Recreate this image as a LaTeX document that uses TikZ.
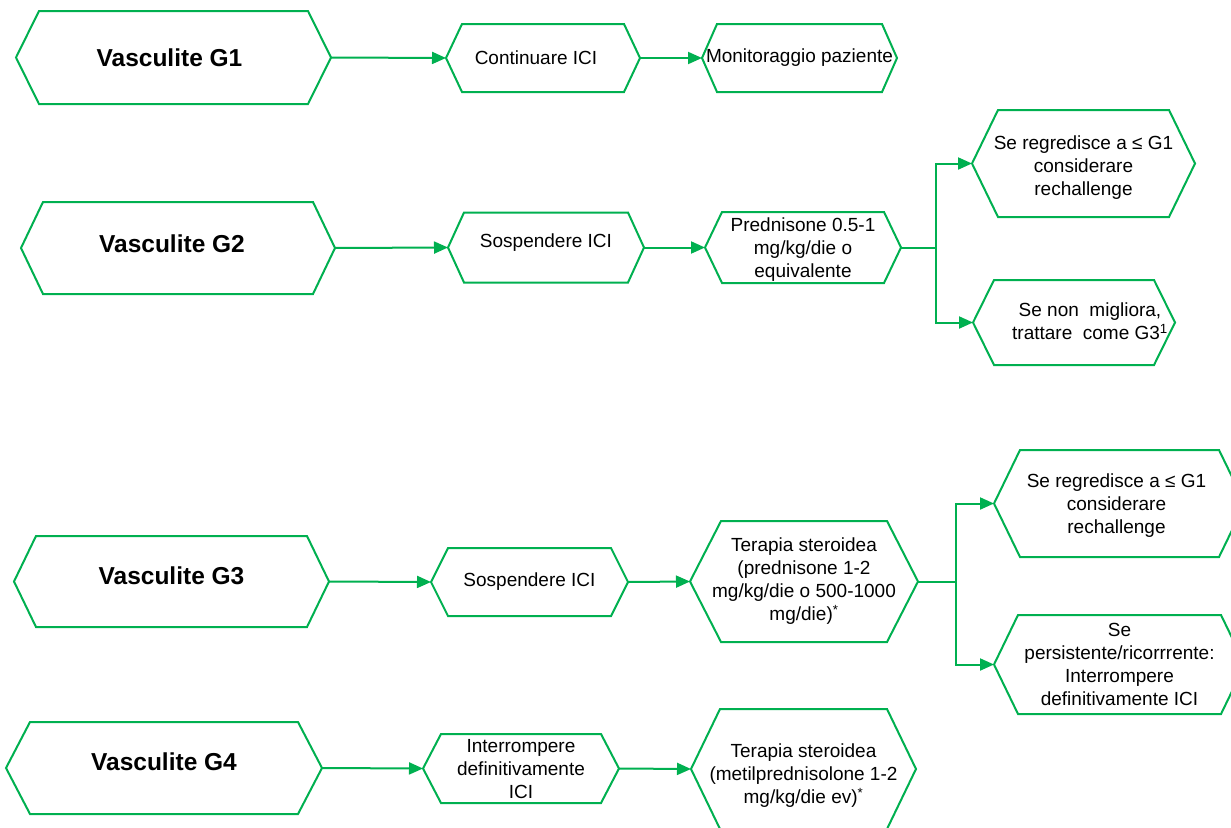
\documentclass[tikz,border=0pt]{standalone}
\usepackage{fontspec}
\setmainfont{Liberation Sans}
\usetikzlibrary{arrows.meta}
\definecolor{gr}{RGB}{0,176,80}
\newcommand\hexframe[2]{\draw[frame] (#1.west) -- ([xshift=#2]#1.north west) -- ([xshift=-#2]#1.north east) -- (#1.east) -- ([xshift=-#2]#1.south east) -- ([xshift=#2]#1.south west) -- cycle;}
\newcommand\mvtxt[2]{\raisebox{#1}[\height][\depth]{\begin{tabular}{@{}c@{}}#2\end{tabular}}}
\begin{document}
\begin{tikzpicture}[x=1pt,y=-1pt,
 box/.style={draw=none, inner sep=0pt, outer sep=0pt, align=center, font=\fontsize{19}{23}\selectfont},
 mainbox/.style={box, font=\fontsize{24.5}{28}\selectfont\bfseries},
 sz/.style 2 args={minimum width=#1pt, minimum height=#2pt},
 frame/.style={draw=gr, line width=2pt, line join=miter},
 arr/.style={draw=gr, line width=2pt, -{Triangle[length=14pt,width=12pt]}},
 link/.style={draw=gr, line width=2pt}]
\clip (0,0) rectangle (1231,827);
\fill[white] (0,0) rectangle (1231,827);

% Row G1
\node[mainbox, sz={315}{93}] (g1) at (173.5,57.5) {\mvtxt{-3pt}{Vasculite G1}\hspace*{8pt}};
\node[box, sz={194}{68}] (cont) at (543,58) {\mvtxt{-2pt}{Continuare ICI}\hspace*{14pt}};
\node[box, sz={195}{68}] (mon) at (799.5,58) {Monitoraggio paziente};

% Row G2
\node[mainbox, sz={314}{92}] (g2) at (178,248) {\mvtxt{1pt}{Vasculite G2}\hspace*{12pt}};
\node[box, sz={196}{70}] (sosp2) at (546,247.5) {\mvtxt{5pt}{Sospendere ICI}};
\node[box, sz={196}{71}] (pred) at (803,247.5) {\mvtxt{-2pt}{Prednisone 0.5-1\\mg/kg/die o\\equivalente}};
\node[box, sz={223}{107}] (sereg2) at (1083.5,163.5) {\mvtxt{-4pt}{Se regredisce a ≤ G1\\considerare\\rechallenge}};
\node[box, sz={202}{85}] (senon) at (1074,322.5) {\hspace*{32pt}\mvtxt{-1pt}{Se non\ \ migliora,\\trattare\ \ come G3\textsuperscript{1}}};

% Row G3
\node[mainbox, sz={315}{91}] (g3) at (171.5,581.5) {\mvtxt{2.5pt}{Vasculite G3}};
\node[box, sz={197}{68}] (sosp3) at (529.5,582) {Sospendere ICI};
\node[box, sz={228}{121}] (ter3) at (804,581.5) {Terapia steroidea\\(prednisone 1-2\\mg/kg/die o 500-1000\\mg/die)\textsuperscript{*}};
\node[box, sz={251}{107}] (sereg3) at (1119.5,503.5) {\mvtxt{-2pt}{Se regredisce a ≤ G1\\considerare\\rechallenge}\hspace*{6pt}};
\node[box, sz={251}{99}] (pers) at (1119.5,664.5) {Se\\persistente/ricorrrente:\\Interrompere\\definitivamente ICI};

% Row G4
\node[mainbox, sz={316}{92}] (g4) at (164,768) {\mvtxt{3pt}{Vasculite G4}};
\node[box, sz={196}{69}] (int) at (521,768.5) {\mvtxt{-2pt}{Interrompere\\definitivamente\\ICI}};
\node[box, sz={225}{120}] (ter4) at (803.5,769) {\mvtxt{-7pt}{Terapia steroidea\\(metilprednisolone 1-2\\mg/kg/die ev)\textsuperscript{*}}};

% Frames
\hexframe{g1}{23}
\hexframe{cont}{16}
\hexframe{mon}{15}
\hexframe{g2}{22}
\hexframe{sosp2}{16}
\hexframe{pred}{17}
\hexframe{sereg2}{26}
\hexframe{senon}{21}
\hexframe{g3}{22}
\hexframe{sosp3}{17}
\hexframe{ter3}{31}
\hexframe{sereg3}{26}
\hexframe{pers}{24}
\hexframe{g4}{24}
\hexframe{int}{18}
\hexframe{ter4}{29}

% Connectors
\draw[arr] (g1.east) -- (cont.west);
\draw[arr] (cont.east) -- (mon.west);

\draw[arr] (g2.east) -- (sosp2.west);
\draw[arr] (sosp2.east) -- (pred.west);
\coordinate (j2) at ([xshift=35]pred.east);
\draw[link] (pred.east) -- (j2);
\draw[arr] (j2) |- (sereg2.west);
\draw[arr] (j2) |- (senon.west);

\draw[arr] (g3.east) -- (sosp3.west);
\draw[arr] (sosp3.east) -- (ter3.west);
\coordinate (j3) at ([xshift=38]ter3.east);
\draw[link] (ter3.east) -- (j3);
\draw[arr] (j3) |- (sereg3.west);
\draw[arr] (j3) |- (pers.west);

\draw[arr] (g4.east) -- (int.west);
\draw[arr] (int.east) -- (ter4.west);
\end{tikzpicture}
\end{document}
